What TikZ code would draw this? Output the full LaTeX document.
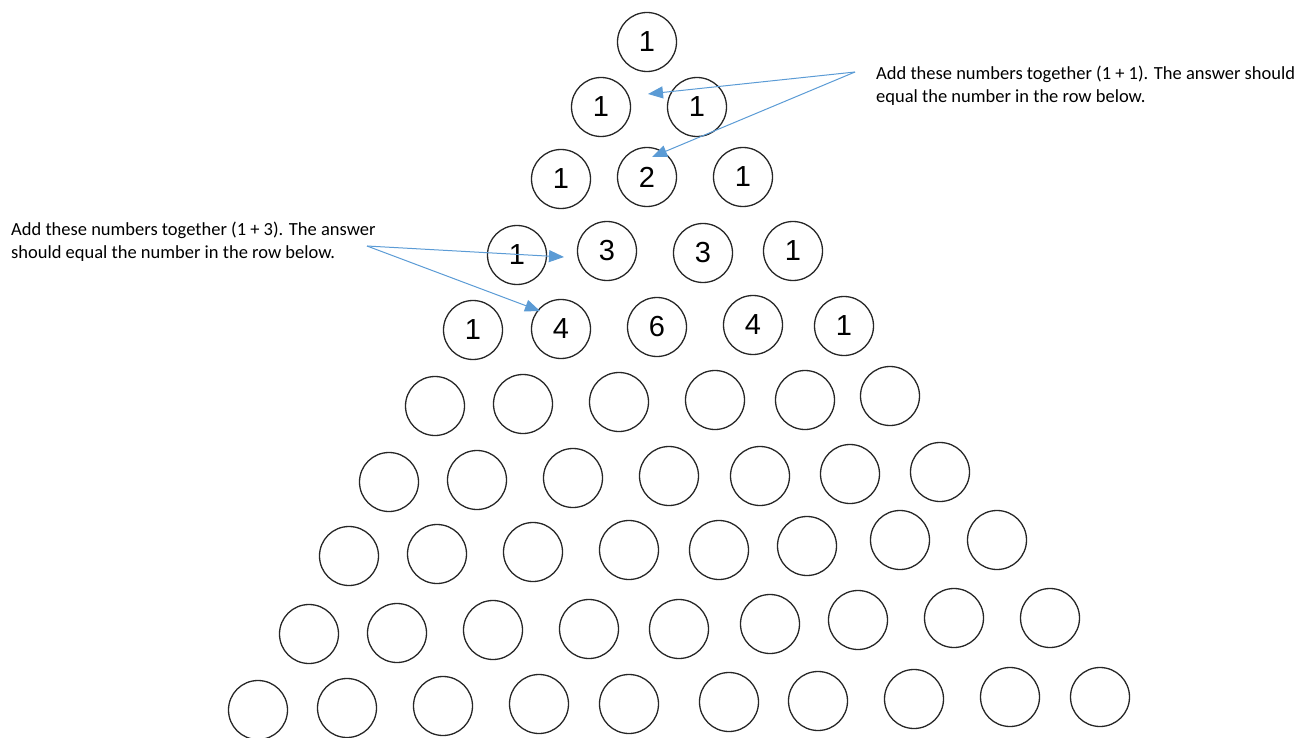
\documentclass[tikz,border=0pt]{standalone}
\usepackage{fontspec}
\setmainfont{Carlito}
\newfontfamily\numfont{Liberation Sans}
\usetikzlibrary{arrows.meta}
\definecolor{arrowblue}{HTML}{5B9BD5}
\begin{document}
\begin{tikzpicture}[x=1pt,y=-1pt,
  ball/.style={circle, draw=black!85, line width=1.3pt, minimum size=59pt, inner sep=0pt,
    font=\numfont\fontsize{29}{29}\selectfont},
  note/.style={font=\fontsize{18.5}{23}\selectfont, align=left, inner sep=0pt, anchor=north west},
  pointer/.style={draw=arrowblue, line width=1pt, -{Triangle[length=15pt,width=12pt]}}]
\useasboundingbox (0,0) rectangle (1301,738);
% numbered rows
\node[ball] (r1a) at (647,42) {1};
\node[ball] (r2a) at (601,107) {1};
\node[ball] (r2b) at (697,107) {1};
\node[ball] (r3a) at (561,179) {1};
\node[ball] (r3b) at (647,177) {2};
\node[ball] (r3c) at (743,177) {1};
\node[ball] (r4a) at (517,255) {1};
\node[ball] (r4b) at (607,251) {3};
\node[ball] (r4c) at (703,253) {3};
\node[ball] (r4d) at (793,251) {1};
\node[ball] (r5a) at (473,330) {1};
\node[ball] (r5b) at (561,329) {4};
\node[ball] (r5c) at (657,327) {6};
\node[ball] (r5d) at (753,325) {4};
\node[ball] (r5e) at (844,326) {1};
% empty rows
\foreach \n/\x/\y in {
  6a/435/406, 6b/523/404, 6c/619/402, 6d/715/400, 6e/805/400, 6f/890/396,
  7a/389/482, 7b/477/480, 7c/573/478, 7d/669/476, 7e/760/476, 7f/850/474, 7g/940/472,
  8a/349/556, 8b/437/554, 8c/533/552, 8d/629/550, 8e/719/550, 8f/807/546, 8g/900/540, 8h/997/540,
  9a/309/634, 9b/397/633, 9c/493/630, 9d/589/629, 9e/679/629, 9f/770/624, 9g/858/620, 9h/954/618, 9i/1050/618,
  10a/258/710, 10b/347/708, 10c/443/706, 10d/539/704, 10e/629/704, 10f/729/702, 10g/818/701, 10h/914/699, 10i/1010/697, 10j/1100/697}
  \node[ball] (r\n) at (\x,\y) {};
% notes
\node[note] (noteR) at (876,66) {Add these numbers together (1 + 1). The answer should\\equal the number in the row below.};
\node[note] (noteL) at (11,222) {Add these numbers together (1 + 3). The answer\\should equal the number in the row below.};
% pointers
\coordinate (sR) at (855,72);
\coordinate (tR1) at (648,94);
\coordinate (tR2) at (652,157);
\coordinate (sL) at (367,246);
\coordinate (tL1) at (564,257);
\coordinate (tL2) at (540,311);
\draw[pointer] (sR) -- (tR1);
\draw[pointer] (sR) -- (tR2);
\draw[pointer] (sL) -- (tL1);
\draw[pointer] (sL) -- (tL2);
\end{tikzpicture}
\end{document}
